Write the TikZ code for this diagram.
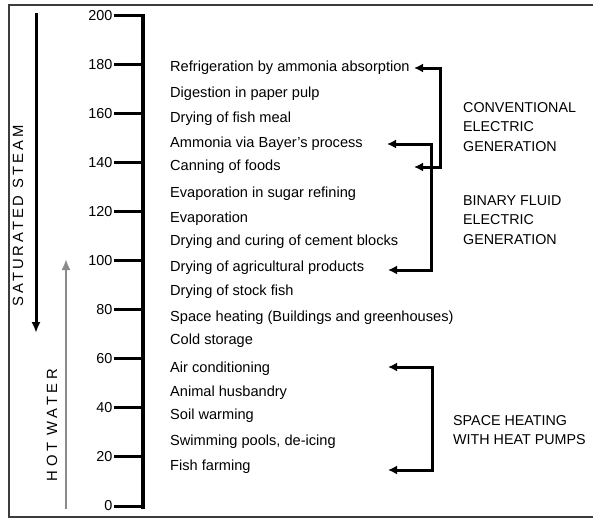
\documentclass[tikz,border=0pt]{standalone}
\usepackage{fontspec}
\setmainfont{Liberation Sans}
\usetikzlibrary{arrows.meta}
\definecolor{framegray}{HTML}{3C3C3C}
\definecolor{hotgray}{HTML}{8A8A8A}
\begin{document}
\begin{tikzpicture}[x=1pt,y=-1pt,
  item/.style={anchor=west,inner sep=0pt,font=\fontsize{14.6}{16}\selectfont},
  ticklab/.style={anchor=east,inner sep=0pt,font=\fontsize{14.4}{16}\selectfont},
  grp/.style={anchor=north west,inner sep=0pt,align=left,font=\fontsize{14.3}{19.5}\selectfont},
  axisline/.style={line width=3.2pt,line cap=rect},
  brk/.style={line width=3pt,{Latex[length=9pt,width=9pt]}-{Latex[length=9pt,width=9pt]}},
  framel/.style={draw=framegray,line width=1.6pt}]
\useasboundingbox (0,0) rectangle (593,519);
% frame
\draw[framel] (593,5) -- (9,5) -- (9,517) -- (593,517);
% axis
\coordinate (atop) at (143,15.5);
\coordinate (abot) at (143,507);
\draw[axisline] (atop) -- (abot);
\foreach \v in {0,20,...,200}{
  \pgfmathsetmacro{\yy}{506-\v*2.4525}
  \coordinate (tk\v) at (143,\yy);
  \coordinate (tl\v) at (114,\yy);
  \draw[line width=3pt] (tk\v) -- (tl\v);
  \node[ticklab] (lab\v) at (112.5,\yy) {\v};
}
% left arrows
\coordinate (st1) at (36,13);
\coordinate (st2) at (36,333);
\draw[line width=3pt,-{Latex[length=11pt,width=9pt]}] (st1) -- (st2);
\node[rotate=90,inner sep=0pt,font=\fontsize{14.8}{16}\addfontfeature{LetterSpace=20}\selectfont] (satl) at (18,216) {SATURATED STEAM};
\coordinate (hw1) at (66,509);
\coordinate (hw2) at (66,259);
\draw[hotgray,line width=2.4pt,-{Latex[length=11pt,width=9pt]}] (hw1) -- (hw2);
\node[rotate=90,inner sep=0pt,font=\fontsize{14.8}{16}\addfontfeature{LetterSpace=24}\selectfont] (hwl) at (52,425) {HOT WATER};
% items
\node[item] (i1) at (170,68) {Refrigeration by ammonia absorption};
\node[item] (i2) at (170,94) {Digestion in paper pulp};
\node[item] (i3) at (170,119) {Drying of fish meal};
\node[item] (i4) at (170,144) {Ammonia via Bayer's process};
\node[item] (i5) at (170,167) {Canning of foods};
\node[item] (i6) at (170,194) {Evaporation in sugar refining};
\node[item] (i7) at (170,219) {Evaporation};
\node[item] (i8) at (170,242) {Drying and curing of cement blocks};
\node[item] (i9) at (170,268) {Drying of agricultural products};
\node[item] (i10) at (170,292) {Drying of stock fish};
\node[item] (i11) at (170,318) {Space heating (Buildings and greenhouses)};
\node[item] (i12) at (170,341) {Cold storage};
\node[item] (i13) at (170,369) {Air conditioning};
\node[item] (i14) at (170,393) {Animal husbandry};
\node[item] (i15) at (170,416) {Soil warming};
\node[item] (i16) at (170,442) {Swimming pools, de-icing};
\node[item] (i17) at (170,467) {Fish farming};
% brackets
\coordinate (a1) at (i1.east -| 414,0);
\coordinate (c1a) at (440,68);
\coordinate (c1b) at (440,167);
\coordinate (a2) at (414,167);
\draw[brk] (a1) -- (c1a) -- (c1b) -- (a2);
\coordinate (b1) at (387,144);
\coordinate (c2a) at (431,144);
\coordinate (c2b) at (431,270);
\coordinate (b2) at (388,270);
\draw[brk] (b1) -- (c2a) -- (c2b) -- (b2);
\coordinate (s1) at (388,367);
\coordinate (c3a) at (432,367);
\coordinate (c3b) at (432,470);
\coordinate (s2) at (388,470);
\draw[brk] (s1) -- (c3a) -- (c3b) -- (s2);
% group labels
\node[grp] (g1) at (463,102) {CONVENTIONAL\\ELECTRIC\\GENERATION};
\node[grp] (g2) at (463,195) {BINARY FLUID\\ELECTRIC\\GENERATION};
\node[grp] (g3) at (453,415) {SPACE HEATING\\WITH HEAT PUMPS};
\end{tikzpicture}
\end{document}
